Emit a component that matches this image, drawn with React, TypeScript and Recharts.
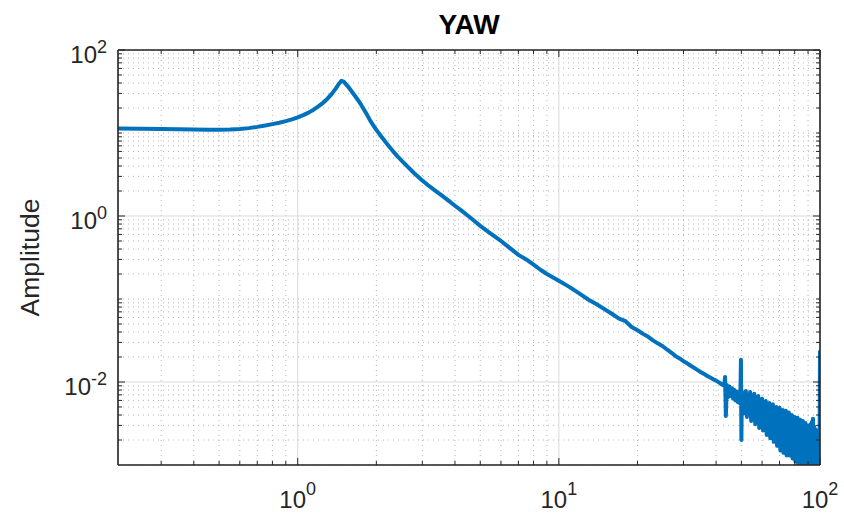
import React from 'react';
import { LineChart, Line, XAxis, YAxis, CartesianGrid } from 'recharts';

// frequency (Hz) and amplitude
const freqs = [
  0.205, 0.25, 0.3, 0.35, 0.4, 0.45, 0.5, 0.55, 0.6, 0.65, 0.7, 0.75, 0.8, 0.85, 0.9, 0.95,
  1.0, 1.05, 1.1, 1.15, 1.2, 1.25, 1.3, 1.35, 1.4, 1.44, 1.47, 1.5, 1.55, 1.6, 1.65, 1.7,
  1.75, 1.8, 1.85, 1.9, 1.95, 2.0, 2.1, 2.2, 2.3, 2.4, 2.6, 2.8, 3.0, 3.2, 3.4, 3.6, 3.8,
  4.0, 4.25, 4.5, 4.75, 5.0, 5.5, 6.0, 6.5, 7.0, 7.5, 8.0, 8.5, 9.0, 9.5,
  10, 11, 12, 13, 14, 15, 16, 17, 18, 19, 20, 21, 22, 23, 24, 25, 26, 27, 28, 29, 30,
  31, 32, 33, 34, 35, 36, 37, 38, 39, 40, 41, 42, 43, 43.3, 43.6, 44, 44.5, 45, 45.5, 46,
  46.5, 47, 47.5, 48, 48.5, 49, 49.5, 49.8, 50, 50.2, 50.5,
  51, 51.5, 52, 52.5, 53, 53.5, 54, 54.5, 55, 55.5, 56, 56.5, 57, 57.5, 58, 58.5, 59, 59.5,
  60, 60.5, 61, 61.5, 62, 62.5, 63, 63.5, 64, 64.5, 65, 65.5, 66, 66.5, 67, 67.5, 68, 68.5, 69, 69.5,
  70, 70.5, 71, 71.5, 72, 72.5, 73, 73.5, 74, 74.5, 75, 75.5, 76, 76.5, 77, 77.5, 78, 78.5, 79, 79.5,
  80, 80.5, 81, 81.5, 82, 82.5, 83, 83.5, 84, 84.5, 85, 85.5, 86, 86.5, 87, 87.5, 88, 88.5, 89, 89.5,
  90, 90.5, 91, 91.5, 92, 92.5, 93, 93.5, 94, 94.5, 95, 95.5, 96, 96.5, 97, 97.5, 98, 98.5, 99, 99.5,
  100,
];
const amps = [
  11.3, 11.25, 11.2, 11.1, 11.0, 10.95, 10.95, 11.0, 11.15, 11.45, 11.85, 12.3, 12.8, 13.3, 13.9, 14.6,
  15.4, 16.4, 17.6, 19.1, 20.9, 23.1, 25.9, 29.6, 34.5, 39.5, 42.5, 41.5, 37, 32.5, 28.5, 25,
  21.8, 18.8, 16.2, 13.9, 12.3, 10.9, 8.9, 7.35, 6.2, 5.3, 4.1, 3.25, 2.68, 2.27, 1.97, 1.72, 1.51,
  1.33, 1.15, 1.0, 0.87, 0.76, 0.61, 0.5, 0.41, 0.34, 0.3, 0.26, 0.225, 0.2, 0.182,
  0.166, 0.139, 0.116, 0.098, 0.086, 0.075, 0.066, 0.058, 0.054, 0.046, 0.042, 0.038, 0.035, 0.0315, 0.029, 0.027, 0.0245, 0.0225, 0.0205, 0.0192, 0.0178,
  0.0168, 0.0157, 0.0148, 0.0139, 0.0131, 0.0125, 0.0118, 0.0113, 0.0108, 0.0104, 0.0099, 0.0094, 0.009, 0.0115, 0.0039, 0.0092, 0.0066, 0.0088, 0.0068, 0.0084,
  0.0063, 0.008, 0.006, 0.0077, 0.0057, 0.0074, 0.0055, 0.0185, 0.002, 0.0072, 0.0048,
  0.0074, 0.0042, 0.0078, 0.0038, 0.0069, 0.0045, 0.0076, 0.0034, 0.0067, 0.004, 0.0072, 0.0031, 0.0065, 0.0036, 0.0068, 0.0028, 0.006, 0.0032,
  0.0063, 0.0026, 0.0056, 0.003, 0.0059, 0.0023, 0.0053, 0.0027, 0.0056, 0.0021, 0.0052, 0.0025, 0.0054, 0.0019, 0.0048, 0.0023, 0.005, 0.0017, 0.0046, 0.002,
  0.0049, 0.0015, 0.0044, 0.0019, 0.0046, 0.0014, 0.0041, 0.0018, 0.0045, 0.0013, 0.0039, 0.0016, 0.0043, 0.0013, 0.0038, 0.0015, 0.004, 0.0012, 0.0036, 0.0014,
  0.0038, 0.0011, 0.0035, 0.0013, 0.0037, 0.001, 0.0032, 0.0011, 0.0035, 0.0009, 0.0031, 0.001, 0.0034, 0.0009, 0.003, 0.0009, 0.0032, 0.0008, 0.0029, 0.0008,
  0.003, 0.0007, 0.0028, 0.0008, 0.0031, 0.0007, 0.0033, 0.0007, 0.0036, 0.0007, 0.0029, 0.0007, 0.0027, 0.0007, 0.0026, 0.0007, 0.0024, 0.0007, 0.0022, 0.0007,
  0.024,
];

const xMajor = [1, 10, 100];
const xMajorExp = ['0', '1', '2'];
const xMinor = [0.3, 0.4, 0.5, 0.6, 0.7, 0.8, 0.9, 2, 3, 4, 5, 6, 7, 8, 9, 20, 30, 40, 50, 60, 70, 80, 90];
const yMajor = [0.01, 1, 100];
const yMajorExp = ['-2', '0', '2'];
const yMinor = [
  0.002, 0.003, 0.004, 0.005, 0.006, 0.007, 0.008, 0.009,
  0.02, 0.03, 0.04, 0.05, 0.06, 0.07, 0.08, 0.09, 0.1,
  0.2, 0.3, 0.4, 0.5, 0.6, 0.7, 0.8, 0.9,
  2, 3, 4, 5, 6, 7, 8, 9, 10, 20, 30, 40, 50, 60, 70, 80, 90,
];

const xDomain = [0.205, 100];
const yDomain = [0.001, 100];

const data = freqs.map((f, i) => ({ freq: f, amp: amps[i] }));
const xAll = [...xMinor, ...xMajor].sort((a, b) => a - b);
const yAll = [...yMinor, ...yMajor].sort((a, b) => a - b);

const FONT = '"Liberation Sans", Arial, Helvetica, sans-serif';
const INK = '#262626';

const BottomTick = (props: any) => {
  const { x, y, payload } = props;
  const idx = xMajor.indexOf(payload.value);
  const major = idx >= 0;
  return (
    <g>
      <line x1={x} x2={x} y1={y} y2={y - (major ? 7 : 4)} stroke={INK} strokeWidth={1} />
      {major && (
        <text x={x} y={y + 43} textAnchor="middle" fontFamily={FONT} fontSize={24} fill={INK}>
          10<tspan dy={-13} fontSize={18}>{xMajorExp[idx]}</tspan>
        </text>
      )}
    </g>
  );
};

const LeftTick = (props: any) => {
  const { x, y, payload } = props;
  const idx = yMajor.indexOf(payload.value);
  const major = idx >= 0;
  return (
    <g>
      <line x1={x} x2={x + (major ? 7 : 4)} y1={y} y2={y} stroke={INK} strokeWidth={1} />
      {major && (
        <text x={x - 11} y={y + 13} textAnchor="end" fontFamily={FONT} fontSize={24} fill={INK}>
          10<tspan dy={-10} fontSize={18}>{yMajorExp[idx]}</tspan>
        </text>
      )}
    </g>
  );
};

const TopTick = (props: any) => {
  const { x, y, payload } = props;
  const major = xMajor.includes(payload.value);
  return <line x1={x} x2={x} y1={y} y2={y + (major ? 7 : 4)} stroke={INK} strokeWidth={1} />;
};

const RightTick = (props: any) => {
  const { x, y, payload } = props;
  const major = yMajor.includes(payload.value);
  return <line x1={x} x2={x - (major ? 7 : 4)} y1={y} y2={y} stroke={INK} strokeWidth={1} />;
};

export default function App() {
  return (
    <div style={{ position: 'absolute', left: 0, top: 0, background: '#fff' }}>
      <LineChart width={844} height={521} data={data} margin={{ top: 49, right: 23, bottom: 0, left: 0 }}>
        <XAxis xAxisId="gmin" dataKey="freq" type="number" scale="log" domain={xDomain} allowDataOverflow ticks={xMinor} interval={0} hide />
        <YAxis yAxisId="gmin" type="number" scale="log" domain={yDomain} allowDataOverflow ticks={yMinor} interval={0} hide />
        <XAxis xAxisId="gmaj" dataKey="freq" type="number" scale="log" domain={xDomain} allowDataOverflow ticks={xMajor} interval={0} hide />
        <YAxis yAxisId="gmaj" type="number" scale="log" domain={yDomain} allowDataOverflow ticks={yMajor} interval={0} hide />
        <CartesianGrid xAxisId="gmin" yAxisId="gmin" stroke="#b4b4b4" strokeDasharray="1 4" />
        <CartesianGrid xAxisId="gmaj" yAxisId="gmaj" stroke="#d9d9d9" />

        <XAxis
          dataKey="freq"
          type="number"
          scale="log"
          domain={xDomain}
          allowDataOverflow
          ticks={xAll}
          interval={0}
          height={56}
          tickSize={0}
          tickMargin={0}
          tickLine={false}
          tick={BottomTick}
          axisLine={{ stroke: INK, strokeWidth: 1.6 }}
        />
        <YAxis
          type="number"
          scale="log"
          domain={yDomain}
          allowDataOverflow
          ticks={yAll}
          interval={0}
          width={118}
          tickSize={0}
          tickMargin={0}
          tickLine={false}
          tick={LeftTick}
          axisLine={{ stroke: INK, strokeWidth: 1.6 }}
        />
        <XAxis
          xAxisId="top"
          orientation="top"
          dataKey="freq"
          type="number"
          scale="log"
          domain={xDomain}
          allowDataOverflow
          ticks={xAll}
          interval={0}
          height={1}
          tickSize={0}
          tickMargin={0}
          tickLine={false}
          tick={TopTick}
          axisLine={{ stroke: INK, strokeWidth: 1.6 }}
        />
        <YAxis
          yAxisId="right"
          orientation="right"
          type="number"
          scale="log"
          domain={yDomain}
          allowDataOverflow
          ticks={yAll}
          interval={0}
          width={1}
          tickSize={0}
          tickMargin={0}
          tickLine={false}
          tick={RightTick}
          axisLine={{ stroke: INK, strokeWidth: 1.6 }}
        />

        <Line
          type="linear"
          dataKey="amp"
          stroke="#0072BD"
          strokeWidth={4}
          strokeLinejoin="round"
          dot={false}
          activeDot={false}
          isAnimationActive={false}
        />

        <text x={469} y={34} textAnchor="middle" fontFamily={FONT} fontWeight="bold" fontSize={28} fill="#000">
          YAW
        </text>
        <text
          transform="translate(39,257.5) rotate(-90)"
          textAnchor="middle"
          fontFamily={FONT}
          fontSize={26.5}
          fill={INK}
        >
          Amplitude
        </text>
      </LineChart>
    </div>
  );
}
